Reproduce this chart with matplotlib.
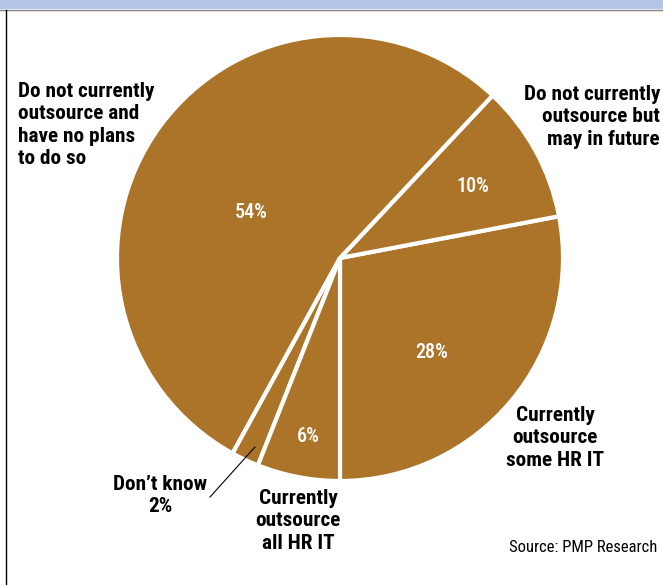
import matplotlib
matplotlib.use("Agg")
import matplotlib.pyplot as plt

# survey shares, drawn counter-clockwise from straight down
labels = ["Currently outsource some HR IT", "Do not currently outsource but may in future",
          "Do not currently outsource and have no plans to do so", "Don't know",
          "Currently outsource all HR IT"]
shares = [28, 10, 54, 2, 6]

BROWN = "#ab7429"
W, H = 663, 585
COND = ["Roboto Condensed", "Archivo Narrow", "DejaVu Sans"]

fig = plt.figure(figsize=(W / 100, H / 100), dpi=100)
ax = fig.add_axes([0, 0, 1, 1])

cx, cy, r = 340, H - 258, 223
wedges, _ = ax.pie(shares, startangle=-90, counterclock=True, center=(cx, cy), radius=r,
                   colors=[BROWN] * len(shares),
                   wedgeprops=dict(edgecolor="white", linewidth=3))
ax.set_xlim(0, W)
ax.set_ylim(0, H)
ax.set_aspect("auto")
ax.axis("off")

# percentage labels inside the slices
pct_pos = [(432, 353), (473, 187), (251, 212), None, (308, 436)]
for v, p in zip(shares, pct_pos):
    if p is None:
        continue
    ax.text(p[0], H - p[1], f"{v}%", color="white", fontsize=14.5, fontweight="medium",
            family=COND, ha="center", va="center")

lab = dict(fontsize=15.3, fontweight="bold", family=COND, color="black",
           linespacing=1.23)
ax.text(18, H - 82, "Do not currently\noutsource and\nhave no plans\nto do so",
        ha="left", va="top", **lab)
ax.text(660, H - 85, "Do not currently\noutsource but\nmay in future",
        ha="right", va="top", **lab)
ax.text(555, H - 406, "Currently\noutsource\nsome HR IT", ha="center", va="top",
        multialignment="center", **lab)
ax.text(298, H - 489, "Currently\noutsource\nall HR IT", ha="center", va="top",
        multialignment="center", **lab)
ax.text(160, H - 475, f"Don\u2019t know\n{shares[3]}%", ha="center", va="top",
        multialignment="center", **lab)
ax.plot([255, 210], [H - 447, H - 497], color="black", lw=0.8)

ax.text(657, H - 547, "Source: PMP Research", ha="right", va="center",
        fontsize=12, family=COND, color="black")

# header band and frame
ax.add_patch(plt.Rectangle((0, H - 9), W, 9, color="#b4c6e7", lw=0, clip_on=False))
ax.plot([0, W], [H - 9.5, H - 9.5], color="#808080", lw=1)
ax.plot([5.5, 5.5], [0, H - 9.5], color="black", lw=1)

fig.savefig("out.png", dpi=100)
